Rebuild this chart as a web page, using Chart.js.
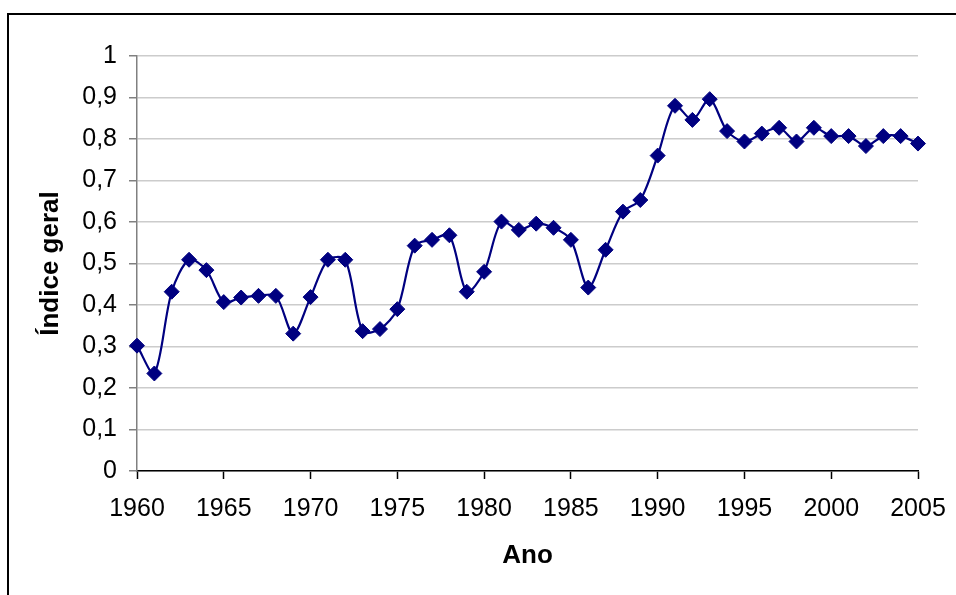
<!DOCTYPE html>
<html>
<head>
<meta charset="utf-8">
<script src="https://cdn.jsdelivr.net/npm/chart.js@4"></script>
<style>
  html, body { margin: 0; padding: 0; background: #fff; overflow: hidden; }
  #wrap { position: relative; width: 956px; height: 595px; }
  #frame {
    position: absolute; left: 7px; top: 13px; width: 1000px; height: 700px;
    border: 2.5px solid #000; box-sizing: border-box; pointer-events: none;
  }
  canvas { position: absolute; left: 0; top: 0; }
</style>
</head>
<body>
<div id="wrap">
  <canvas id="grafica" width="956" height="595"></canvas>
  <div id="frame"></div>
</div>
<script>
// ==============================
// Dados
// ==============================
const anos = [
  1960, 1961, 1962, 1963, 1964, 1965, 1966, 1967, 1968, 1969,
  1970, 1971, 1972, 1973, 1974, 1975, 1976, 1977, 1978, 1979,
  1980, 1981, 1982, 1983, 1984, 1985, 1986, 1987, 1988, 1989,
  1990, 1991, 1992, 1993, 1994, 1995, 1996, 1997, 1998, 1999,
  2000, 2001, 2002, 2003, 2004, 2005
];
const indiceGeral = [
  0.302, 0.235, 0.432, 0.509, 0.484, 0.407, 0.418, 0.422, 0.422, 0.331,
  0.419, 0.509, 0.509, 0.337, 0.342, 0.390, 0.543, 0.557, 0.568, 0.432,
  0.480, 0.601, 0.581, 0.596, 0.586, 0.557, 0.442, 0.533, 0.625, 0.653,
  0.760, 0.880, 0.846, 0.896, 0.819, 0.794, 0.813, 0.827, 0.794, 0.827,
  0.807, 0.807, 0.783, 0.807, 0.807, 0.789
];
const ticksAno = [1960, 1965, 1970, 1975, 1980, 1985, 1990, 1995, 2000, 2005];

const fonte = "'Liberation Sans', Arial, sans-serif";

// ==============================
// Gráfica
// ==============================
const ctx = document.getElementById("grafica").getContext("2d");
new Chart(ctx, {
  type: "line",
  data: {
    datasets: [{
      label: "Índice geral",
      data: anos.map((a, i) => ({ x: a, y: indiceGeral[i] })),
      borderColor: "#000080",
      backgroundColor: "#000080",
      borderWidth: 2.2,
      pointStyle: "rectRot",
      pointRadius: 7.5,
      pointBorderWidth: 1,
      tension: 0.3,
      clip: false,
      fill: false
    }]
  },
  options: {
    responsive: false,
    animation: false,
    layout: { padding: { left: 0, top: 56, right: 38, bottom: 0 } },
    plugins: { legend: { display: false }, tooltip: { enabled: false } },
    scales: {
      x: {
        type: "linear",
        min: 1960,
        max: 2005,
        afterBuildTicks: s => { s.ticks = ticksAno.map(v => ({ value: v })); },
        afterFit: s => { s.height = 124; s.paddingLeft = 0; s.paddingRight = 0; },
        ticks: {
          callback: v => String(v),
          color: "#000",
          font: { family: fonte, size: 25 },
          padding: 15,
          maxRotation: 0,
          autoSkip: false
        },
        grid: { drawOnChartArea: false, drawTicks: true, tickLength: 8, tickColor: "#000", tickWidth: 1.5 },
        border: { color: "#000", width: 1.5 },
        title: {
          display: true,
          text: "Ano",
          color: "#000",
          font: { family: fonte, size: 26, weight: "bold" },
          padding: { top: 0, bottom: 24 }
        }
      },
      y: {
        min: 0,
        max: 1,
        afterFit: s => { s.width = 137; s.paddingTop = 0; s.paddingBottom = 0; },
        ticks: {
          stepSize: 0.1,
          callback: v => String(Number(v.toFixed(1))).replace(".", ","),
          color: "#000",
          font: { family: fonte, size: 25 },
          padding: 12
        },
        grid: { color: "#cccccc", lineWidth: 1.5, tickLength: 8, tickColor: "#808080", tickWidth: 1.5 },
        border: { color: "#808080", width: 1.5 },
        title: {
          display: true,
          text: "Índice geral",
          color: "#000",
          font: { family: fonte, size: 26, weight: "bold" },
          padding: { top: 35, bottom: 0 }
        }
      }
    }
  }
});
</script>
</body>
</html>
